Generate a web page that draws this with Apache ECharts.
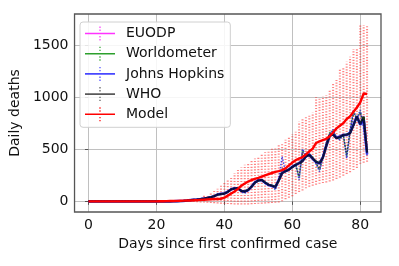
<!DOCTYPE html>
<html>
<head>
<meta charset="utf-8">
<script src="https://cdn.jsdelivr.net/npm/echarts@6/dist/echarts.min.js"></script>
<style>
html,body{margin:0;padding:0;background:#fff;}
#c{width:399px;height:266px;}
</style>
</head>
<body>
<div id="c"></div>
<script>
// Day index 0..82 = position in each array
const xTicks = [0, 20, 40, 60, 80];
const yTicks = [0, 500, 1000, 1500];

// Model mean daily deaths
const modelMean = [0,0,0,0,0,0,0,0,0,0, 0,0,0,0,0,0,0,0,0,0, 0,
  1,1,2,3,4,5,6,7,8,9,
  10,12,14,16,18,20,22,22,25,35,
  55,75,95,120,150,172,190,205,215,225,
  237,250,262,272,283,290,300,317,345,372,
  395,410,425,450,480,505,560,575,588,600,
  625,660,700,725,750,790,815,860,900,950,
  1035,1030];
// Model uncertainty (upper / lower)
const modelHi = [0,0,0,0,0,0,0,0,0,0, 0,0,0,0,0,0,0,0,0,0, 0,
  0,0,0,0,0,0,0,5,10,20,
  28,35,45,55,65,80,100,120,150,190,
  215,235,270,300,325,350,370,395,410,428,
  450,470,490,508,524,540,556,590,620,645,
  668,764,796,810,820,850,998,998,1010,1020,
  1068,1126,1164,1266,1286,1340,1388,1458,1468,1692,
  1692,1692];
const modelLo = [0,0,0,0,0,0,0,0,0,0, 0,0,0,0,0,0,0,0,0,0, 0,
  0,0,0,0,0,0,0,0,-2,-4,
  -6,-8,-10,-12,-14,-16,-18,-20,-22,-24,
  -26,-28,-30,-30,-30,-30,-30,-28,-26,-24,
  -22,-20,-18,-16,-14,-10,0,20,35,50,
  70,90,105,125,140,150,160,168,175,182,
  190,200,215,230,245,262,280,300,320,360,
  370,380];

// Reported deaths (solid lines)
const whoDeaths = [0,0,0,0,0,0,0,0,0,0, 0,0,0,0,0,0,0,0,0,0, 0,0,0,0,0,
  1,2,3,5,8,12,15,18,22,27,33,40,50,65,70,
  75,90,115,125,125,100,95,110,140,180,
  200,205,180,160,150,140,200,270,290,305,
  330,350,365,385,430,445,410,380,365,420,
  530,630,640,605,620,636,640,652,730,812,
  740,812,470];
const jhDeaths = [0,0,0,0,0,0,0,0,0,0, 0,0,0,0,0,0,0,0,0,0, 0,0,0,0,0,
  1,2,3,5,8,12,15,18,22,27,33,40,50,65,72,
  76,92,116,126,124,100,94,108,142,182,
  202,204,178,158,148,138,205,275,292,306,
  332,348,368,390,432,446,408,376,362,425,
  535,632,645,610,622,638,636,660,740,815,
  735,780,450];
const worldometerDeaths = [0,0,0,0,0,0,0,0,0,0, 0,0,0,0,0,0,0,0,0,0, 0,0,0,0,0,
  1,2,3,5,8,12,15,18,22,27,33,40,50,65,71,
  75,91,115,125,126,101,96,112,140,180,
  198,206,182,160,152,142,198,272,292,303,
  328,352,366,388,432,444,412,382,368,422,
  532,628,642,606,618,634,642,654,732,810,
  742,810,468];
const euodpDeaths = [0,0,0,0,0,0,0,0,0,0, 0,0,0,0,0,0,0,0,0,0, 0,0,0,0,0,
  1,2,3,5,8,12,15,18,22,27,33,40,50,65,70,
  75,90,114,124,125,100,95,110,140,180,
  200,205,180,160,150,140,200,270,290,305,
  330,350,365,385,430,445,410,380,365,420,
  530,630,640,605,620,636,640,652,730,812,
  740,812,470];
// Daily raw values (dotted lines)
const jhRaw = [0,0,0,0,0,0,0,0,0,0, 0,0,0,0,0,0,0,0,0,0, 0,0,0,0,0,
  1,3,2,6,7,13,14,19,21,28,33,42,48,70,68,
  72,95,118,122,135,90,77,105,150,185,
  210,200,175,150,155,110,210,430,280,300,
  330,360,205,500,440,460,420,360,285,420,
  560,640,690,610,590,640,413,680,876,790,
  876,700,440];
const worldometerRaw = [0,0,0,0,0,0,0,0,0,0, 0,0,0,0,0,0,0,0,0,0, 0,0,0,0,0,
  1,2,3,5,8,12,15,18,22,27,34,41,52,66,70,
  74,93,117,124,130,95,85,108,145,182,
  205,202,178,155,152,120,205,300,285,302,
  330,355,220,490,445,455,425,365,300,425,
  555,660,680,612,600,640,430,675,860,800,
  860,720,445];
const whoRaw = [0,0,0,0,0,0,0,0,0,0, 0,0,0,0,0,0,0,0,0,0, 0,0,0,0,0,
  1,2,3,5,8,12,15,18,22,27,33,40,50,65,70,
  75,92,116,124,128,95,88,108,145,183,
  205,203,178,155,152,125,205,320,288,303,
  332,352,240,470,440,450,418,370,310,425,
  550,650,670,608,605,638,450,670,840,800,
  850,760,455];

function pairs(arr){ return arr.map((v,i)=>[i,v]); }

const FONT = 'DejaVu Sans';
const icon = 'path://M0,6.2h30v1.6h-30z M14.4,0h1.2v1.4h-1.2z M14.4,3h1.2v1.4h-1.2z M14.4,9.6h1.2v1.4h-1.2z M14.4,12.6h1.2v1.4h-1.2z';

function solid(name, color, width, z){
  return {name, type:'line', data:null, showSymbol:false, symbol:'none',
    lineStyle:{color, width}, itemStyle:{color}, z, silent:true};
}

const chart = echarts.init(document.getElementById('c'), null, {renderer:'canvas'});
const series = [
  Object.assign(solid('EUODP','#ff33ff',2,3), {data: pairs(euodpDeaths)}),
  Object.assign(solid('Worldometer','#2ca02c',2,3), {data: pairs(worldometerDeaths)}),
  {name:'wmRaw', type:'line', data: pairs(worldometerRaw), symbol:'none', z:3,
    lineStyle:{color:'rgba(44,160,44,0.8)', width:1.5, type:[1.5,1.5]}},
  Object.assign(solid('Johns Hopkins','rgba(40,40,255,0.85)',2.6,4), {data: pairs(jhDeaths)}),
  {name:'jhRaw', type:'line', data: pairs(jhRaw), symbol:'none', z:4,
    lineStyle:{color:'rgba(40,40,230,0.85)', width:1.5, type:[1.5,1.5]}},
  {name:'whoRaw', type:'line', data: pairs(whoRaw), symbol:'none', z:4,
    lineStyle:{color:'rgba(20,20,60,0.7)', width:1.3, type:[1.5,1.5]}},
  Object.assign(solid('WHO','rgba(0,0,0,0.65)',2.2,5), {data: pairs(whoDeaths)}),
  {name:'modelErr', type:'custom', z:2, clip:true, silent:true,
    data: modelHi.map((h,i)=>[i, modelLo[i], h]),
    encode:{x:0, y:[1,2]},
    renderItem: function(params, api){
      const lo = api.value(1), hi = api.value(2);
      if (hi === lo) return null;
      const p1 = api.coord([api.value(0), lo]);
      const p2 = api.coord([api.value(0), hi]);
      return {type:'line', shape:{x1:p1[0], y1:p1[1], x2:p2[0], y2:p2[1]},
        style:{stroke:'rgba(255,30,30,0.55)', lineWidth:2, lineDash:[1.2,1.6]}};
    }},
  Object.assign(solid('Model','#ff0000',2.4,6), {data: pairs(modelMean)})
];

chart.setOption({
  animation:false,
  backgroundColor:'#fff',
  grid:{left:73, right:18, top:14, bottom:54, show:true, borderColor:'#555', borderWidth:1.3, backgroundColor:'transparent', z:10},
  xAxis:{type:'value', min:-4.1, max:86.1,
    name:'Days since first confirmed case', nameLocation:'middle', nameGap:20,
    nameTextStyle:{fontFamily:FONT, fontSize:14, color:'#111'},
    axisLine:{show:false},
    axisTick:{show:true, customValues:xTicks, length:3.5, lineStyle:{color:'#555', width:1}},
    axisLabel:{customValues:xTicks, fontFamily:FONT, fontSize:14, color:'#111', margin:6,
      formatter: v => String(v)},
    splitLine:{show:true, lineStyle:{color:'#c0c0c0', width:1}}},
  yAxis:{type:'value', min:-102, max:1797,
    name:'Daily deaths', nameLocation:'middle', nameGap:34,
    nameTextStyle:{fontFamily:FONT, fontSize:14, color:'#111'},
    axisLine:{show:false},
    axisTick:{show:true, customValues:yTicks, length:3.5, lineStyle:{color:'#555', width:1}},
    axisLabel:{customValues:yTicks, fontFamily:FONT, fontSize:14, color:'#111', margin:6,
      formatter: v => String(v)},
    splitLine:{show:true, lineStyle:{color:'#c0c0c0', width:1}}},
  legend:{left:80, top:22, orient:'vertical', itemWidth:30, itemHeight:14, itemGap:6.2,
    padding:[4.5,6,6,5], backgroundColor:'rgba(255,255,255,0.85)', borderColor:'#d0d0d0', borderWidth:1, borderRadius:3,
    textStyle:{fontFamily:FONT, fontSize:14, color:'#111', lineHeight:14, padding:[0,0,0,6]},
    itemStyle:{borderWidth:0},
    z:20,
    data:[
      {name:'EUODP', icon:icon},
      {name:'Worldometer', icon:icon},
      {name:'Johns Hopkins', icon:icon},
      {name:'WHO', icon:icon},
      {name:'Model', icon:icon}
    ]},
  series: series
});
</script>
</body>
</html>
